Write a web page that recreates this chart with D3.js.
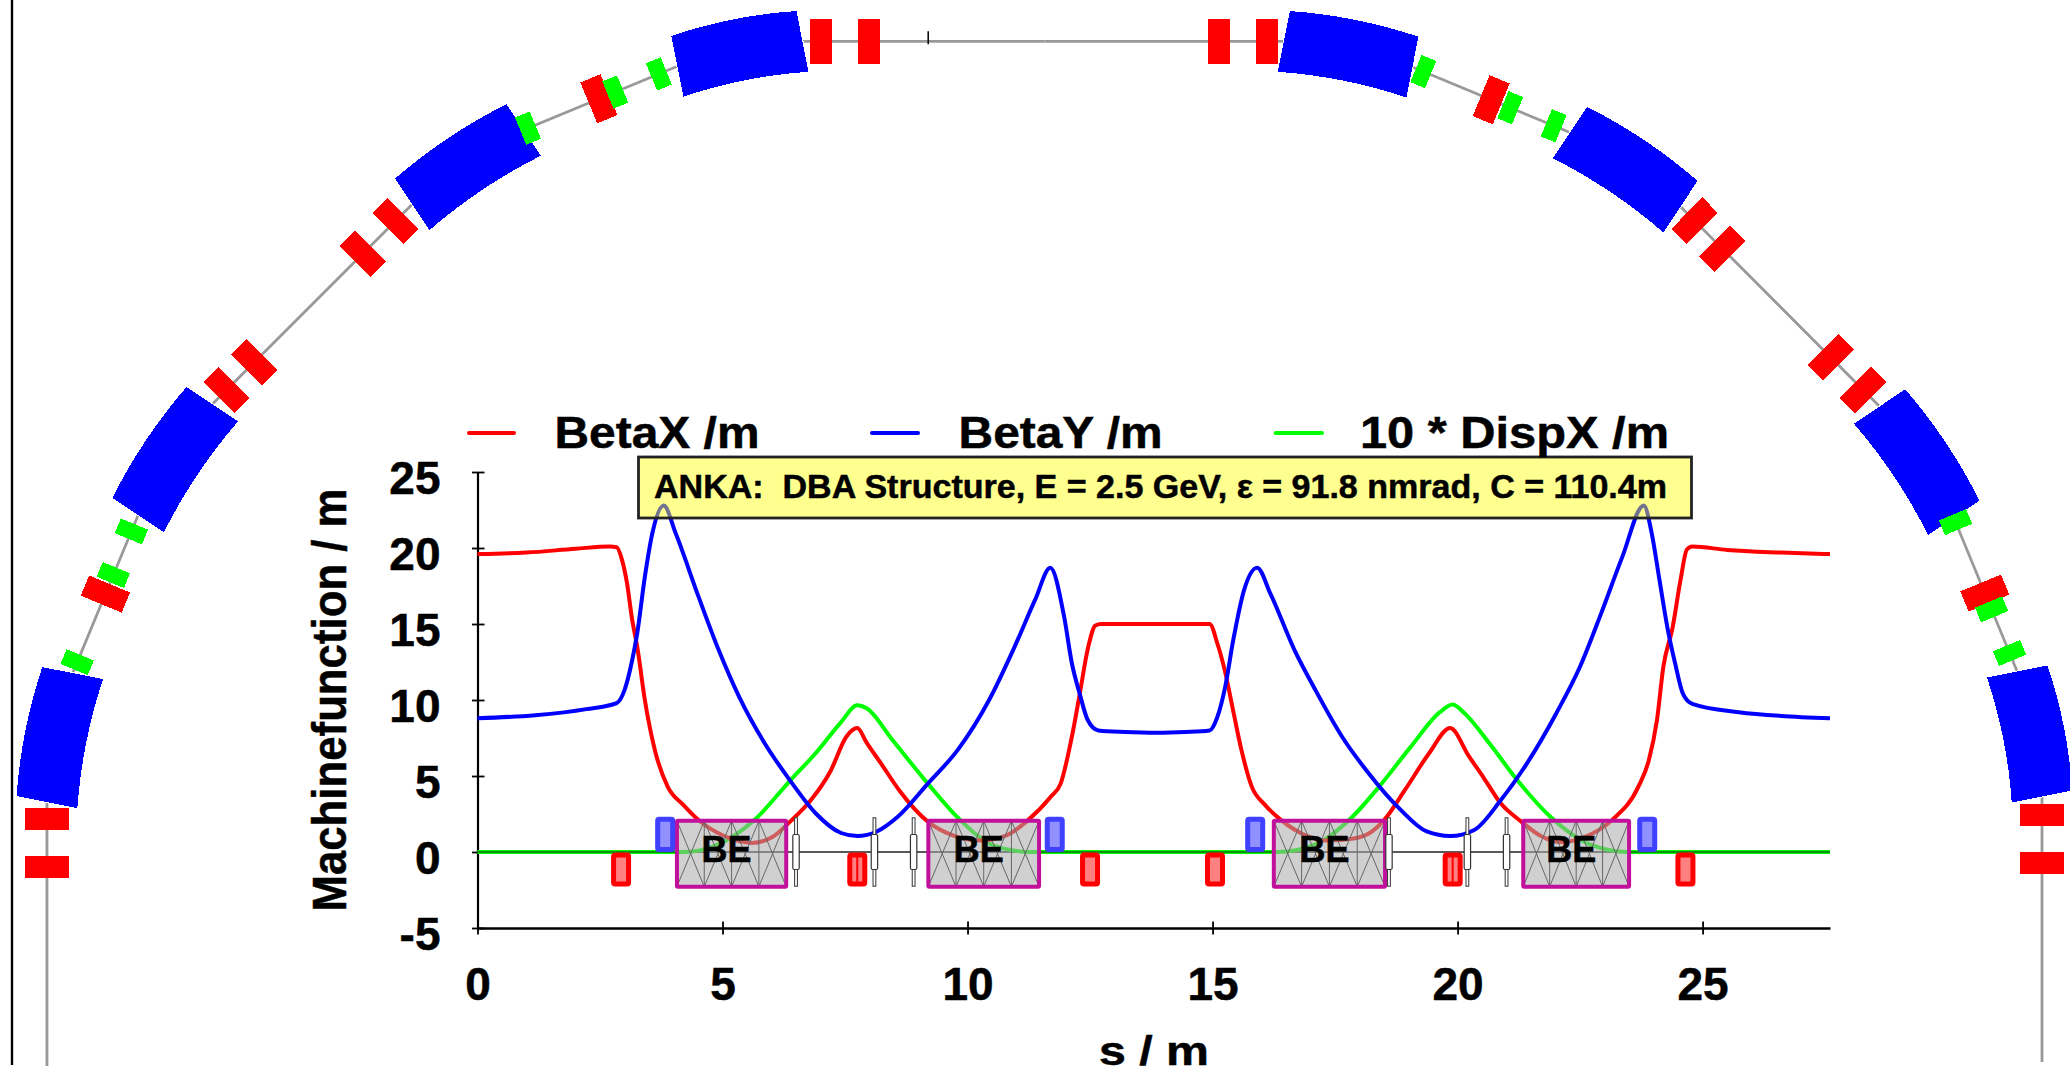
<!DOCTYPE html>
<html>
<head>
<meta charset="utf-8">
<style>
html,body{margin:0;padding:0;background:#fff;}
svg{display:block;}
text{font-family:"Liberation Sans",Arial,sans-serif;font-weight:bold;fill:#000;stroke:#000;stroke-width:0.5px;}
</style>
<script src="https://cdn.jsdelivr.net/npm/d3@7"></script>
</head>
<body>
<svg id="chart" width="2070" height="1074"></svg>
<script>
// ---------- data ----------
const period = 27.6;
const betaXS = [0,1,2,2.7,2.84,2.95,3.05,3.155,3.26,3.415,3.62,3.88,4.2,4.51,5.0,5.6,6.0,6.38,6.8,7.2,7.53,7.75,7.94,8.26,8.62,9.19,9.7,10.29,10.8,11.2,11.69,11.9,12.13,12.29,12.45,12.61,12.72,13.8,14.94,15.1,15.26,15.42,15.59,15.8,16.07,16.4,16.9,17.3,17.8,18.18,18.5,18.93,19.42,19.85,20.23,20.55,20.88,21.3,21.7,22.1,22.6,23.15,23.69,23.9,24.07,24.2,24.39,24.55,24.68,24.79,25.5,26.6,27.6];
const betaXV = [19.6,19.7,19.95,20.1,20.05,19.2,17.7,15.3,13.5,10,6.7,4.3,3.1,2.1,1.1,0.6,0.95,2,3.4,5.3,7.6,8.15,7.2,5.7,4,2,1.1,0.75,1.1,2,3.6,4.5,7.6,10.4,13.3,14.9,15,15,15,13.7,11.8,9.3,6.7,4.3,3.1,2.1,1.1,0.75,0.85,1.2,2.1,4.1,6.5,8.15,6.3,4.8,3.2,2,1.05,0.65,1,2.1,4.3,6,8.7,12.2,14.8,17.9,19.9,20.1,19.87,19.7,19.6];
const betaYS = [0,1.18,2.22,2.84,3,3.155,3.26,3.415,3.57,3.8,4.04,4.51,4.92,5.34,5.86,6.38,6.9,7.42,7.75,8.15,8.57,9.19,9.82,10.44,10.96,11.38,11.69,11.97,12.13,12.29,12.45,12.67,13.21,13.86,14.45,14.94,15.1,15.26,15.42,15.64,15.91,16.18,16.67,17.1,17.64,18.18,18.83,19.37,19.85,20.34,20.88,21.42,22.01,22.5,22.93,23.36,23.8,23.96,24.12,24.28,24.44,24.6,24.79,25.74,26.6,27.6];
const betaYV = [8.8,9,9.4,9.8,10.65,12.6,14.4,18.1,21,22.8,21,16.8,13.3,10.2,7.15,4.7,2.55,1.25,1.05,1.35,2.3,4.5,6.8,10,13.5,16.6,18.7,15.5,12.4,10.4,8.7,8,7.9,7.85,7.9,8,8.9,10.9,13.9,17.2,18.7,17,13.3,10.65,7.6,5.2,2.8,1.35,1.05,1.45,3.4,5.85,9.1,12.2,15.7,19.4,22.8,21,17.9,14.8,12.4,10.4,9.75,9.2,8.95,8.8];
const dispS = [0,4.2,4.82,5.65,6.38,6.9,7.42,7.75,7.94,8.46,9.19,9.82,10.55,11.27,16.34,17.1,17.85,18.4,19.04,19.64,19.9,20.12,20.66,21.2,21.9,22.7,23.47,27.6];
const dispV = [0,0,0.37,2.1,4.7,6.5,8.55,9.65,9.45,7.4,4.5,2.2,0.4,0,0,0.5,2.3,4.3,6.9,9.2,9.7,9.2,7.1,4.8,2.3,0.5,0,0];

const bendRanges = [[4.07,6.3],[9.2,11.46],[16.25,18.52],[21.34,23.5]];
const quadFocus = [2.93,7.75,12.5,15.05,19.9,24.65];
const quadDefocus = [3.83,11.78,15.87,23.87];
const doubleQuads = [7.75,19.9];
const sextupoles = [6.5,8.1,8.9,18.6,20.2,21.0];
const ringQuads = [2.97,3.78,7.75,11.8,12.47,15.07,15.85,19.9,23.82,24.62];
const ringMarkers = [-1.97];

const xTicks = [0,5,10,15,20,25];
const yTicks = [-5,0,5,10,15,20,25];
const legendLabels = ["BetaX /m","BetaY /m","10 * DispX /m"];
const seriesColors = ["#ff0000","#0000ff","#00ff00"];
const titleText = "ANKA:  DBA Structure, E = 2.5 GeV, \u03b5 = 91.8 nmrad, C = 110.4m";

// ---------- scales ----------
const svg = d3.select("#chart");
const xS = d3.scaleLinear().domain([0,period]).range([477.5,1830]);
const yS = d3.scaleLinear().domain([-5,25]).range([928,472]);
const ringX = d3.scaleLinear().domain([-17,0,17]).range([1044.5-17*59.03,1044.5,1044.5+17*58.8]);
const ringY = d3.scaleLinear().domain([0,18]).range([41.4,41.4+18*59]);

// ---------- ring layout, walked from the lattice ----------
const ringEnd = 28;
const stepAngle = Math.PI/8;
function makeWalker(bends){
  const segs=[]; let d=0,x=0,y=0,th=0;
  function add(d1,ang){
    segs.push({d0:d,d1,x0:x,y0:y,ang});
    x+=(d1-d)*Math.cos(ang); y+=(d1-d)*Math.sin(ang); d=d1;
  }
  bends.forEach(([a,b])=>{ add(a,th); add(b,th+stepAngle/2); th+=stepAngle; });
  add(ringEnd,th);
  const at=q=>{
    const s=segs.find(k=>q<=k.d1)||segs[segs.length-1];
    return {x:s.x0+(q-s.d0)*Math.cos(s.ang),y:s.y0+(q-s.d0)*Math.sin(s.ang),ang:s.ang};
  };
  return {segs,at};
}
const rightW = makeWalker(bendRanges);
const leftBends = bendRanges.map(([a,b])=>[period-b,period-a]).reverse();
const leftW = makeWalker(leftBends);

const ringLine = d3.line().x(p=>ringX(p[0])).y(p=>ringY(p[1]));
function localPoly(w,sign,d,pts){
  const c=w.at(d), t=[Math.cos(c.ang),Math.sin(c.ang)], n=[Math.sin(c.ang),-Math.cos(c.ang)];
  return pts.map(([u,v])=>[sign*(c.x+u*t[0]+v*n[0]),c.y+u*t[1]+v*n[1]]);
}
function rectPts(l,w){return [[-l/2,-w/2],[l/2,-w/2],[l/2,w/2],[-l/2,w/2],[-l/2,-w/2]];}
function bendPts(l,w,sag){
  const ts=d3.range(-1,1.001,0.25);
  const top=ts.map(t=>[t*l/2, w/2+sag*(1-t*t)]);
  const bot=ts.slice().reverse().map(t=>[t*l/2,-w/2+sag*(1-t*t)]);
  return top.concat(bot).concat([top[0]]);
}
const ringG = svg.append("g");
const sides=[{w:rightW,sign:1,bends:bendRanges,map:s=>s},{w:leftW,sign:-1,bends:leftBends,map:s=>period-s}];

sides.forEach(side=>{
  const pts=[[0,0]].concat(side.w.segs.map(k=>[
    side.sign*(k.x0+(k.d1-k.d0)*Math.cos(k.ang)),
    k.y0+(k.d1-k.d0)*Math.sin(k.ang)]));
  ringG.append("path").attr("d",ringLine(pts)).attr("fill","none").attr("stroke","#999").attr("stroke-width",2.8);
});
sides.forEach(side=>{
  ringQuads.forEach(s=>{
    ringG.append("path").attr("d",ringLine(localPoly(side.w,side.sign,side.map(s),rectPts(0.37,0.75))))
      .attr("fill","#ff0000").attr("shape-rendering","crispEdges");
  });
});
sides.forEach(side=>{
  side.bends.forEach(([a,b])=>{
    ringG.append("path").attr("d",ringLine(localPoly(side.w,side.sign,(a+b)/2+1e-6,bendPts(b-a,1.05,0.07))))
      .attr("fill","#0000ff").attr("stroke","#fff").attr("stroke-width",2).attr("paint-order","stroke").attr("shape-rendering","crispEdges");
  });
});
sides.forEach(side=>{
  sextupoles.forEach(s=>{
    ringG.append("path").attr("d",ringLine(localPoly(side.w,side.sign,side.map(s),rectPts(0.27,0.5))))
      .attr("fill","#00ff00").attr("shape-rendering","crispEdges");
  });
});
ringMarkers.forEach(m=>{
  ringG.append("line").attr("x1",ringX(m)).attr("x2",ringX(m))
    .attr("y1",ringY(-0.17)).attr("y2",ringY(0.05)).attr("stroke","#000").attr("stroke-width",1.5);
});
// outer frame line on the far left
svg.append("line").attr("x1",12).attr("x2",12).attr("y1",0).attr("y2",1065).attr("stroke","#000").attr("stroke-width",2.4);

// ---------- axes ----------
const xAxis = d3.axisBottom(xS).tickValues(xTicks).tickSizeOuter(0).tickFormat(d=>String(d));
const yAxis = d3.axisLeft(yS).tickValues(yTicks).tickSizeOuter(0).tickFormat(d=>String(d));
const gx = svg.append("g").attr("transform",`translate(0,${yS(-5)})`).call(xAxis);
const gy = svg.append("g").attr("transform",`translate(${xS(0)},0)`).call(yAxis);
gx.select(".domain").attr("stroke","#000").attr("stroke-width",2.6);
gy.select(".domain").attr("stroke","#000").attr("stroke-width",2.2);
gx.selectAll(".tick line").attr("y1",-6.5).attr("y2",6.5).attr("stroke","#000").attr("stroke-width",1.8);
gy.selectAll(".tick line").attr("x1",-5.5).attr("x2",7).attr("stroke","#000").attr("stroke-width",1.8);
gx.selectAll(".tick text").attr("y",72).attr("dy",0).attr("font-size",46).attr("font-family","Liberation Sans").attr("font-weight","bold").attr("fill","#000");
gy.selectAll(".tick text").attr("x",-37).attr("dy",21).attr("font-size",46).attr("font-family","Liberation Sans").attr("font-weight","bold").attr("fill","#000");

svg.append("text").attr("x",1154).attr("y",1065).attr("text-anchor","middle")
  .attr("font-size",41).attr("textLength",110).attr("lengthAdjust","spacingAndGlyphs").text("s / m");
svg.append("text").attr("transform","translate(346,700) rotate(-90)").attr("text-anchor","middle")
  .attr("font-size",49).attr("textLength",423).attr("lengthAdjust","spacingAndGlyphs").text("Machinefunction / m");

// ---------- baseline and curves ----------
svg.append("line").attr("x1",xS(0)).attr("x2",xS(period)).attr("y1",yS(0)).attr("y2",yS(0)).attr("stroke","#222").attr("stroke-width",1.6);
const curve = d3.line().x(p=>xS(p[0])).y(p=>yS(p[1])).curve(d3.curveMonotoneX);
[[dispS,dispV,2],[betaXS,betaXV,0],[betaYS,betaYV,1]].forEach(([s,v,c])=>{
  svg.append("path").attr("d",curve(d3.zip(s,v))).attr("fill","none")
    .attr("stroke",seriesColors[c]).attr("stroke-width",4).attr("stroke-linejoin","round");
});
// thin dark core of the zero line on the dispersion trace
svg.append("line").attr("x1",xS(0)).attr("x2",xS(4.07)).attr("y1",yS(0)).attr("y2",yS(0)).attr("stroke","#222").attr("stroke-width",1);
svg.append("line").attr("x1",xS(23.5)).attr("x2",xS(period)).attr("y1",yS(0)).attr("y2",yS(0)).attr("stroke","#222").attr("stroke-width",1);
svg.append("line").attr("x1",xS(11.46)).attr("x2",xS(16.25)).attr("y1",yS(0)).attr("y2",yS(0)).attr("stroke","#222").attr("stroke-width",1);

// ---------- lattice strip ----------
const latG = svg.append("g");
const bendTop = yS(2.05), bendBot = yS(-2.28);
bendRanges.forEach(([a,b])=>{
  const x0=xS(a),x1=xS(b);
  const edges=d3.range(0,5).map(i=>x0+(x1-x0)*i/4);
  latG.append("rect").attr("x",x0).attr("y",bendTop).attr("width",x1-x0).attr("height",bendBot-bendTop)
    .attr("fill","rgb(170,170,170)").attr("fill-opacity",0.55);
  edges.slice(0,4).forEach((e,i)=>{
    const f=edges[i+1];
    [[e,bendTop,f,bendBot],[f,bendTop,e,bendBot],[f,bendTop,f,bendBot]].forEach(l=>{
      latG.append("line").attr("x1",l[0]).attr("y1",l[1]).attr("x2",l[2]).attr("y2",l[3])
        .attr("stroke","#666").attr("stroke-width",1);
    });
  });
  latG.append("rect").attr("x",x0).attr("y",bendTop).attr("width",x1-x0).attr("height",bendBot-bendTop)
    .attr("fill","none").attr("stroke","#c0109c").attr("stroke-width",4).attr("rx",1);
  latG.append("text").attr("x",(x0+x1)/2-5).attr("y",yS(-0.68)).attr("text-anchor","middle")
    .attr("font-size",36).text("BE");
});
sextupoles.forEach(s=>{
  const x=xS(s);
  latG.append("rect").attr("x",x-1.4).attr("y",yS(2.25)).attr("width",2.8).attr("height",yS(-2.25)-yS(2.25))
    .attr("fill","#fff").attr("stroke","#333").attr("stroke-width",1);
  latG.append("rect").attr("x",x-3.2).attr("y",yS(1.15)).attr("width",6.4).attr("height",yS(-1.15)-yS(1.15)).attr("rx",1.5)
    .attr("fill","#fff").attr("stroke","#333").attr("stroke-width",1.2);
});
quadDefocus.forEach(s=>{
  latG.append("rect").attr("x",xS(s)-7.5).attr("y",yS(2.15)).attr("width",15).attr("height",yS(0.17)-yS(2.15)).attr("rx",1.5)
    .attr("fill","#9090ff").attr("stroke","#4040ff").attr("stroke-width",5);
});
quadFocus.forEach(s=>{
  latG.append("rect").attr("x",xS(s)-7.5).attr("y",yS(-0.2)).attr("width",15).attr("height",yS(-2.1)-yS(-0.2)).attr("rx",1.5)
    .attr("fill","#ff8080").attr("stroke","#ff0000").attr("stroke-width",5);
});
doubleQuads.forEach(s=>{
  latG.append("line").attr("x1",xS(s)).attr("x2",xS(s)).attr("y1",yS(-0.2)).attr("y2",yS(-2.1)).attr("stroke","#ff0000").attr("stroke-width",2);
});

// ---------- title box ----------
svg.append("rect").attr("x",638.5).attr("y",457).attr("width",1053).attr("height",61)
  .attr("fill","rgb(255,255,9)").attr("fill-opacity",0.45).attr("stroke","#222").attr("stroke-width",2.8);
svg.append("text").attr("x",654).attr("y",497.5).attr("font-size",33).attr("textLength",1013)
  .attr("lengthAdjust","spacingAndGlyphs").style("white-space","pre").text(titleText);

// ---------- legend ----------
const legendSamples=[[469,514,554.5,205],[872,918,958.6,204],[1275.6,1322,1360,309]];
legendLabels.forEach((t,i)=>{
  const g=legendSamples[i];
  svg.append("line").attr("x1",g[0]).attr("x2",g[1]).attr("y1",433).attr("y2",433)
    .attr("stroke",seriesColors[i]).attr("stroke-width",4).attr("stroke-linecap","round");
  svg.append("text").attr("x",g[2]).attr("y",448).attr("font-size",45).attr("textLength",g[3])
    .attr("lengthAdjust","spacingAndGlyphs").text(t);
});
</script>
</body>
</html>
